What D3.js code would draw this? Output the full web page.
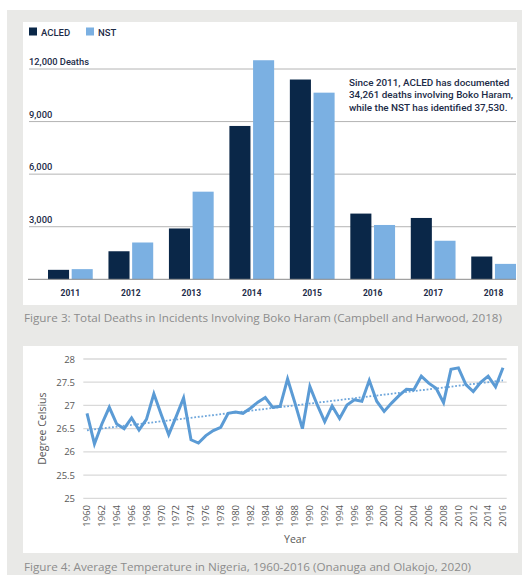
<!DOCTYPE html>
<html>
<head>
<meta charset="utf-8">
<script src="https://cdn.jsdelivr.net/npm/d3@7"></script>
<style>
  body { margin: 0; background: #fff; }
  svg { display: block; }
  .cap { font-family: "Open Sans", sans-serif; fill: #8c8c8c; }
  .bar-txt { font-family: Roboto, "Noto Sans", sans-serif; fill: #1d2c48; }
  .xl-txt { font-family: "Open Sans", sans-serif; fill: #595959; }
</style>
</head>
<body>
<script>
// figure 3 data
var years = ["2011", "2012", "2013", "2014", "2015", "2016", "2017", "2018"];
var seriesNames = ["ACLED", "NST"];
var acled = [540, 1600, 2900, 8750, 11400, 3750, 3500, 1300];
var nst = [580, 2100, 5000, 12500, 10650, 3100, 2200, 880];
var deathTicks = [3000, 6000, 9000, 12000];

// figure 4 data
var tempYears = d3.range(1960, 2017);
var temps = [
  26.83, 26.17, 26.6, 26.96, 26.6, 26.5, 26.73, 26.47, 26.7, 27.25,
  26.8, 26.37, 26.76, 27.16, 26.26, 26.19, 26.35, 26.46, 26.53, 26.83,
  26.86, 26.83, 26.94, 27.07, 27.17, 26.96, 26.98, 27.57, 27.05, 26.5,
  27.41, 27.01, 26.65, 26.99, 26.72, 27.01, 27.12, 27.09, 27.54, 27.09,
  26.87, 27.05, 27.21, 27.35, 27.34, 27.63, 27.48, 27.37, 27.06, 27.78,
  27.81, 27.45, 27.3, 27.5, 27.63, 27.4, 27.81
];
var tempTicks = [25, 25.5, 26, 26.5, 27, 27.5, 28];

var colors = { ACLED: "#0a2748", NST: "#7bb0e2" };

var svg = d3.select("body").append("svg")
  .attr("width", 522)
  .attr("height", 575);

// page background
svg.append("rect").attr("x", 7).attr("y", 10).attr("width", 515).attr("height", 565).attr("fill", "#e9e9e7");
svg.append("rect").attr("x", 23).attr("y", 22).attr("width", 494).attr("height", 283).attr("fill", "#fff");
svg.append("rect").attr("x", 23).attr("y", 346).attr("width", 495).attr("height", 207).attr("fill", "#fff");

// ---------- Figure 3: grouped bars ----------
var y = d3.scaleLinear().domain([0, 12000]).range([279.3, 69]);
var x0 = d3.scaleBand().domain(years).range([48, 516]).paddingInner(0.26).paddingOuter(0);
var x1 = d3.scaleBand().domain(seriesNames).range([0, x0.bandwidth()]).paddingInner(0.11);

var bars = svg.append("g");

bars.selectAll(".grid")
  .data(deathTicks)
  .enter()
  .append("line")
  .attr("x1", 29).attr("x2", 516)
  .attr("y1", d => y(d)).attr("y2", d => y(d))
  .attr("stroke", "#b4b4b4")
  .attr("stroke-width", 1);

bars.selectAll(".ylab")
  .data(deathTicks)
  .enter()
  .append("text")
  .attr("class", "bar-txt")
  .attr("x", 29)
  .attr("y", d => y(d) - 4)
  .style("font-size", "9.3px")
  .style("font-weight", 500)
  .text(d => d3.format(",")(d) + (d === 12000 ? " Deaths" : ""));

var rows = years.map(function(yr, i) {
  return { year: yr, vals: [{ name: "ACLED", value: acled[i] }, { name: "NST", value: nst[i] }] };
});

var grp = bars.selectAll(".grp")
  .data(rows)
  .enter()
  .append("g")
  .attr("transform", d => "translate(" + x0(d.year) + ",0)");

grp.selectAll("rect")
  .data(d => d.vals)
  .enter()
  .append("rect")
  .attr("x", d => x1(d.name))
  .attr("y", d => y(d.value))
  .attr("width", x1.bandwidth())
  .attr("height", d => y(0) - y(d.value))
  .attr("fill", d => colors[d.name]);

bars.append("line")
  .attr("x1", 28).attr("x2", 516)
  .attr("y1", y(0)).attr("y2", y(0))
  .attr("stroke", "#8a8a8a")
  .attr("stroke-width", 1);

bars.selectAll(".xlab")
  .data(years)
  .enter()
  .append("text")
  .attr("class", "bar-txt")
  .attr("x", d => x0(d) + x0.bandwidth() / 2)
  .attr("y", 296)
  .attr("text-anchor", "middle")
  .style("font-size", "8.5px")
  .style("font-weight", 700)
  .text(d => d);

// legend
var leg = bars.selectAll(".leg")
  .data([{ name: "ACLED", x: 29 }, { name: "NST", x: 86 }])
  .enter()
  .append("g");
leg.append("rect")
  .attr("x", d => d.x).attr("y", 27.5)
  .attr("width", 8).attr("height", 8)
  .attr("fill", d => colors[d.name]);
leg.append("text")
  .attr("class", "bar-txt")
  .attr("x", d => d.x + 12)
  .attr("y", 35.5)
  .style("font-size", "9.5px")
  .style("font-weight", 500)
  .text(d => d.name);

var note = ["Since 2011, ACLED has documented", "34,261 deaths involving Boko Haram,", "while the NST has identified 37,530."];
bars.selectAll(".note")
  .data(note)
  .enter()
  .append("text")
  .attr("class", "bar-txt")
  .attr("x", 349)
  .attr("y", (d, i) => 86 + i * 12.3)
  .style("font-size", "9.9px")
  .style("font-weight", 500)
  .text(d => d);

svg.append("text")
  .attr("class", "cap")
  .attr("x", 24).attr("y", 321.5)
  .attr("textLength", 478)
  .attr("lengthAdjust", "spacingAndGlyphs")
  .style("font-size", "10.5px")
  .text("Figure 3: Total Deaths in Incidents Involving Boko Haram (Campbell and Harwood, 2018)");

// ---------- Figure 4: temperature line ----------
var tx = d3.scalePoint().domain(tempYears).range([83.3, 506.7]).padding(0.5);
var ty = d3.scaleLinear().domain([25, 28]).range([498.3, 359]);

var lc = svg.append("g");

lc.selectAll(".tgrid")
  .data(tempTicks)
  .enter()
  .append("line")
  .attr("x1", 83.3).attr("x2", 506.7)
  .attr("y1", d => ty(d)).attr("y2", d => ty(d))
  .attr("stroke", "#d9d9d9")
  .attr("stroke-width", 1.3);

lc.selectAll(".tylab")
  .data(tempTicks)
  .enter()
  .append("text")
  .attr("class", "xl-txt")
  .attr("x", 75)
  .attr("y", d => ty(d) + 3.5)
  .attr("text-anchor", "end")
  .style("font-size", "9.5px")
  .text(d => d);

lc.selectAll(".txlab")
  .data(tempYears.filter(d => d % 2 === 0))
  .enter()
  .append("text")
  .attr("class", "xl-txt")
  .attr("transform", d => "translate(" + (tx(d) + 3.3) + ",505) rotate(-90)")
  .attr("text-anchor", "end")
  .style("font-size", "9.5px")
  .text(d => d);

lc.append("text")
  .attr("class", "xl-txt")
  .attr("transform", "translate(46," + ((ty(25) + ty(28)) / 2) + ") rotate(-90)")
  .attr("text-anchor", "middle")
  .style("font-size", "10.5px")
  .text("Degree Celsius");

lc.append("text")
  .attr("class", "xl-txt")
  .attr("x", (83.3 + 506.7) / 2)
  .attr("y", 543)
  .attr("text-anchor", "middle")
  .style("font-size", "10.5px")
  .text("Year");

// linear trend (least squares, like the spreadsheet trendline)
var n = temps.length;
var mx = d3.mean(tempYears), my = d3.mean(temps);
var sxy = d3.sum(tempYears, (d, i) => (d - mx) * (temps[i] - my));
var sxx = d3.sum(tempYears, d => (d - mx) * (d - mx));
var slope = sxy / sxx, icpt = my - slope * mx;
var ends = [tempYears[0], tempYears[n - 1]];

lc.append("path")
  .datum(ends)
  .attr("fill", "none")
  .attr("stroke", "#6ea6db")
  .attr("stroke-width", 1.8)
  .attr("stroke-dasharray", "1.8,1.8")
  .attr("d", d3.line().x(d => tx(d)).y(d => ty(icpt + slope * d)));

lc.append("path")
  .datum(temps)
  .attr("fill", "none")
  .attr("stroke", "#5b9bd5")
  .attr("stroke-width", 3)
  .attr("stroke-linejoin", "miter")
  .attr("d", d3.line().x((d, i) => tx(tempYears[i])).y(d => ty(d)));

svg.append("text")
  .attr("class", "cap")
  .attr("x", 24).attr("y", 571)
  .attr("textLength", 447)
  .attr("lengthAdjust", "spacingAndGlyphs")
  .style("font-size", "10.5px")
  .text("Figure 4: Average Temperature in Nigeria, 1960-2016 (Onanuga and Olakojo, 2020)");
</script>
</body>
</html>
